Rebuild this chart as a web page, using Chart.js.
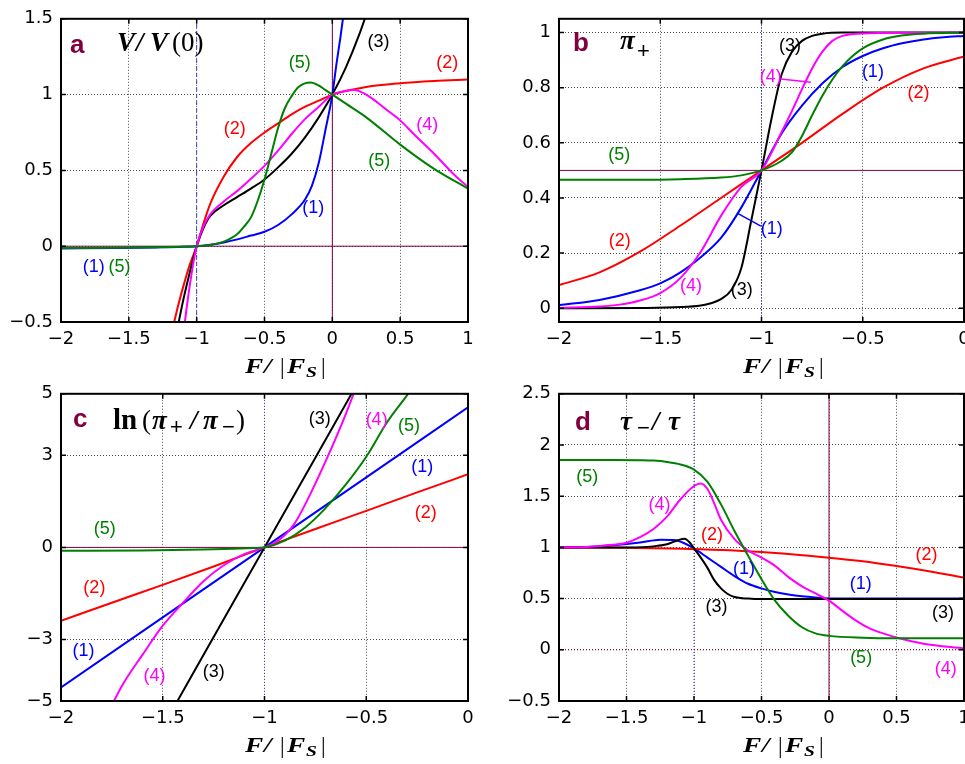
<!DOCTYPE html>
<html>
<head>
<meta charset="utf-8">
<script src="https://cdn.jsdelivr.net/npm/chart.js@4.4.1/dist/chart.umd.min.js"></script>
<style>
  html, body { margin: 0; padding: 0; background: #fff; }
  #wrap { position: relative; width: 965px; height: 764px; overflow: hidden; background: #fff; }
  canvas { position: absolute; }
</style>
</head>
<body>
<div id="wrap">
  <canvas id="chartA" width="490" height="385" style="left:0;top:0"></canvas>
  <canvas id="chartB" width="500" height="385" style="left:482px;top:0"></canvas>
  <canvas id="chartC" width="490" height="389" style="left:0;top:375px"></canvas>
  <canvas id="chartD" width="500" height="389" style="left:482px;top:375px"></canvas>
</div>
<script>
// ---- data: ticks ----
const xTicksA = [-2, -1.5, -1, -0.5, 0, 0.5, 1];
const yTicksA = [-0.5, 0, 0.5, 1, 1.5];
const xTicksB = [-2, -1.5, -1, -0.5, 0];
const yTicksB = [0, 0.2, 0.4, 0.6, 0.8, 1];
const xTicksC = [-2, -1.5, -1, -0.5, 0];
const yTicksC = [-5, -3, 0, 3, 5];
const xTicksD = [-2, -1.5, -1, -0.5, 0, 0.5, 1];
const yTicksD = [-0.5, 0, 0.5, 1, 1.5, 2, 2.5];

// ---- data: panel a, V/V(0) ----
const a1 = [[-2,-0.015],[-1.6,-0.012],[-1.3,-0.008],[-1.1,-0.004],[-1,0],[-0.9,0.01],[-0.8,0.025],[-0.7,0.045],[-0.6,0.07],[-0.5,0.095],[-0.4,0.14],[-0.3,0.21],[-0.2,0.31],[-0.15,0.4],[-0.1,0.55],[-0.05,0.77],[0,1],[0.03,1.2],[0.06,1.38],[0.09,1.58],[0.12,1.8]];
const a2 = [[-1.25,-0.85],[-1.2,-0.64],[-1.15,-0.44],[-1.1,-0.27],[-1.05,-0.12],[-1,0],[-0.95,0.15],[-0.9,0.28],[-0.8,0.46],[-0.7,0.59],[-0.6,0.68],[-0.5,0.75],[-0.4,0.81],[-0.3,0.87],[-0.2,0.92],[-0.1,0.96],[0,1],[0.25,1.05],[0.5,1.075],[0.75,1.09],[1,1.1]];
const a3 = [[-1.2,-0.8],[-1.15,-0.58],[-1.1,-0.36],[-1.05,-0.17],[-1,0],[-0.95,0.12],[-0.9,0.2],[-0.8,0.27],[-0.7,0.325],[-0.6,0.38],[-0.5,0.44],[-0.4,0.52],[-0.3,0.61],[-0.2,0.72],[-0.1,0.85],[0,1],[0.1,1.18],[0.2,1.4],[0.3,1.66]];
const a4 = [[-1.14,-0.9],[-1.1,-0.6],[-1.07,-0.38],[-1.03,-0.14],[-1,0],[-0.95,0.13],[-0.9,0.21],[-0.8,0.295],[-0.7,0.365],[-0.6,0.445],[-0.5,0.53],[-0.4,0.63],[-0.3,0.74],[-0.2,0.84],[-0.1,0.92],[0,1],[0.08,1.02],[0.16,1.03],[0.25,1],[0.4,0.9],[0.5,0.83],[0.6,0.74],[0.75,0.61],[0.9,0.47],[1,0.39]];
const a5 = [[-2,-0.012],[-1.6,-0.01],[-1.3,-0.007],[-1.1,-0.003],[-1,0],[-0.9,0.008],[-0.8,0.03],[-0.7,0.08],[-0.65,0.13],[-0.6,0.19],[-0.55,0.3],[-0.5,0.44],[-0.45,0.61],[-0.4,0.78],[-0.35,0.91],[-0.3,0.99],[-0.25,1.05],[-0.16,1.08],[-0.1,1.06],[-0.05,1.03],[0,1],[0.1,0.94],[0.25,0.85],[0.5,0.67],[0.75,0.51],[1,0.38]];

// ---- data: panel b, pi+ ----
const b1 = [[-2,0.011],[-1.8,0.03],[-1.6,0.065],[-1.5,0.09],[-1.4,0.13],[-1.3,0.185],[-1.2,0.255],[-1.1,0.365],[-1,0.5],[-0.9,0.635],[-0.8,0.735],[-0.7,0.815],[-0.6,0.875],[-0.5,0.915],[-0.4,0.943],[-0.3,0.962],[-0.2,0.975],[-0.1,0.983],[0,0.988]];
const b2 = [[-2,0.084],[-1.8,0.13],[-1.6,0.205],[-1.4,0.3],[-1.2,0.4],[-1.1,0.45],[-1,0.5],[-0.9,0.55],[-0.8,0.6],[-0.6,0.705],[-0.4,0.8],[-0.2,0.87],[0,0.913]];
const b3 = [[-2,0],[-1.6,0.001],[-1.4,0.004],[-1.3,0.01],[-1.25,0.018],[-1.2,0.033],[-1.15,0.065],[-1.1,0.145],[-1.05,0.32],[-1,0.5],[-0.95,0.69],[-0.9,0.85],[-0.85,0.93],[-0.8,0.97],[-0.75,0.988],[-0.7,0.996],[-0.6,1],[0,1]];
const b4 = [[-2,0.001],[-1.8,0.006],[-1.7,0.013],[-1.6,0.028],[-1.5,0.055],[-1.4,0.11],[-1.3,0.205],[-1.2,0.335],[-1.1,0.44],[-1,0.5],[-0.9,0.64],[-0.85,0.715],[-0.8,0.795],[-0.75,0.87],[-0.7,0.93],[-0.65,0.97],[-0.6,0.988],[-0.5,0.997],[0,1]];
const b5 = [[-2,0.466],[-1.6,0.466],[-1.4,0.468],[-1.2,0.474],[-1.1,0.482],[-1,0.5],[-0.9,0.535],[-0.85,0.565],[-0.8,0.625],[-0.75,0.7],[-0.7,0.77],[-0.65,0.83],[-0.6,0.878],[-0.55,0.915],[-0.5,0.943],[-0.4,0.975],[-0.3,0.99],[-0.2,0.996],[0,1]];
const bLeader1 = [[-1.12,0.345],[-1.003,0.298]];
const bLeader4 = [[-0.905,0.832],[-0.757,0.82]];

// ---- data: panel c, ln(pi+/pi-) ----
const c1 = [[-2,-4.56],[-1.5,-2.28],[-1,0],[-0.5,2.28],[0,4.56]];
const c2 = [[-2,-2.39],[-1.75,-1.8],[-1.5,-1.22],[-1.25,-0.62],[-1,0],[-0.75,0.6],[-0.5,1.19],[-0.25,1.79],[0,2.38]];
const c3 = [[-1.5,-5.85],[-1.25,-2.92],[-1,0],[-0.75,2.92],[-0.5,5.85]];
const c4 = [[-1.8,-5.8],[-1.7,-4.5],[-1.6,-3.5],[-1.5,-2.55],[-1.4,-1.8],[-1.3,-1.1],[-1.2,-0.58],[-1.1,-0.22],[-1,0],[-0.95,0.15],[-0.9,0.4],[-0.85,0.8],[-0.8,1.4],[-0.7,2.8],[-0.6,4.35],[-0.5,6.1]];
const c5 = [[-2,-0.11],[-1.6,-0.1],[-1.3,-0.07],[-1.15,-0.045],[-1.05,-0.02],[-1,0],[-0.9,0.22],[-0.8,0.65],[-0.7,1.28],[-0.6,2.05],[-0.5,2.95],[-0.4,4.05],[-0.3,4.95],[-0.2,5.9]];

// ---- data: panel d, tau-/tau ----
const d1 = [[-2,1],[-1.8,1.005],[-1.6,1.022],[-1.4,1.048],[-1.25,1.075],[-1.15,1.072],[-1.08,1.045],[-1,0.99],[-0.9,0.9],[-0.8,0.81],[-0.7,0.72],[-0.6,0.645],[-0.5,0.6],[-0.4,0.565],[-0.3,0.54],[-0.2,0.522],[-0.1,0.51],[0,0.502],[0.5,0.5],[1,0.5]];
const d2 = [[-2,1],[-1.5,0.996],[-1,0.985],[-0.5,0.955],[0,0.9],[0.25,0.865],[0.5,0.818],[0.75,0.765],[1,0.705]];
const d3 = [[-2,1],[-1.5,1],[-1.3,1.01],[-1.2,1.03],[-1.12,1.07],[-1.07,1.085],[-1.03,1.045],[-1,0.99],[-0.95,0.9],[-0.9,0.8],[-0.85,0.68],[-0.8,0.6],[-0.75,0.545],[-0.7,0.515],[-0.6,0.5],[-0.5,0.495],[0,0.495],[1,0.495]];
const d4 = [[-2,1],[-1.8,1.005],[-1.6,1.025],[-1.5,1.045],[-1.4,1.1],[-1.3,1.18],[-1.2,1.3],[-1.1,1.47],[-1,1.6],[-0.95,1.625],[-0.9,1.57],[-0.85,1.43],[-0.8,1.27],[-0.7,1.08],[-0.6,0.97],[-0.5,0.9],[-0.4,0.82],[-0.3,0.71],[-0.2,0.62],[-0.1,0.55],[0,0.48],[0.1,0.38],[0.2,0.285],[0.3,0.21],[0.4,0.16],[0.5,0.12],[0.7,0.06],[1,0.015]];
const d5 = [[-2,1.854],[-1.6,1.854],[-1.4,1.852],[-1.3,1.848],[-1.2,1.835],[-1.1,1.81],[-1,1.76],[-0.9,1.64],[-0.8,1.42],[-0.7,1.16],[-0.6,0.92],[-0.5,0.69],[-0.4,0.48],[-0.3,0.33],[-0.2,0.22],[-0.1,0.16],[0,0.136],[0.25,0.118],[0.5,0.113],[1,0.113]];

// ---- curve labels: text, x, y, curve number ----
const aLabels = [["(3)",0.34,1.35,3],["(5)",-0.24,1.21,5],["(2)",0.847,1.21,2],["(2)",-0.72,0.77,2],["(4)",0.7,0.8,4],["(5)",0.346,0.56,5],["(1)",-0.14,0.254,1],["(1)",-1.758,-0.14,1],["(5)",-1.568,-0.14,5]];
const bLabels = [["(3)",-0.859,0.95,3],["(4)",-0.954,0.84,4],["(1)",-0.45,0.856,1],["(2)",-0.225,0.779,2],["(5)",-1.703,0.554,5],["(2)",-1.7,0.243,2],["(1)",-0.949,0.288,1],["(4)",-1.348,0.082,4],["(3)",-1.098,0.066,3]];
const cLabels = [["(3)",-0.728,4.18,3],["(4)",-0.449,4.15,4],["(5)",-0.29,3.94,5],["(1)",-0.225,2.61,1],["(2)",-0.208,1.11,2],["(5)",-1.785,0.6,5],["(2)",-1.836,-1.33,2],["(1)",-1.889,-3.38,1],["(4)",-1.541,-4.18,4],["(3)",-1.249,-4.05,3]];
const dLabels = [["(5)",-1.79,1.69,5],["(4)",-1.256,1.41,4],["(2)",-0.867,1.12,2],["(2)",0.722,0.93,2],["(1)",-0.629,0.79,1],["(1)",0.236,0.647,1],["(3)",-0.833,0.42,3],["(3)",0.845,0.356,3],["(5)",0.238,-0.08,5],["(4)",0.865,-0.19,4]];

// ---- styles ----
const COLORS = ["#0000ff", "#ff0000", "#000000", "#ff00ff", "#008000"];
const MAROON = "#800040";
const REFBLUE = "#4040c0";
const BI = 'italic bold 27px "Liberation Serif"';
const RS = '27px "Liberation Serif"';
const BS = 'bold 29px "Liberation Serif"';
const SUBF = '22px "Liberation Sans"';
const LETTER = 'bold 26px "Liberation Sans"';
const AT = 'italic bold 21px "Liberation Serif"';
const AB = '23px "Liberation Serif"';

const AXIS_TITLE = [
  { t: "F", dx: 184, dy: 51, f: AT, sx: 1.3 },
  { t: "/", dx: 203, dy: 51, f: AT, sx: 1.3 },
  { t: "|", dx: 219, dy: 52, f: AB },
  { t: "F", dx: 226, dy: 51, f: AT, sx: 1.3 },
  { t: "S", dx: 245, dy: 55, f: 'italic bold 15px "Liberation Serif"', sx: 1.3 },
  { t: "|", dx: 260, dy: 52, f: AB }
];

function fmt(v) {
  return String(v).replace("-", "\u2212");
}

function drawPiece(ctx, p, x, y) {
  ctx.save();
  ctx.font = p.f;
  ctx.fillStyle = p.c || "#000";
  ctx.translate(x, y);
  ctx.scale(p.sx || 1, 1);
  ctx.fillText(p.t, 0, 0);
  ctx.restore();
}

const decor = {
  id: "decor",
  afterDatasetsDraw(chart, args, opts) {
    const ctx = chart.ctx;
    const a = chart.chartArea;
    const x = chart.scales.x;
    const y = chart.scales.y;
    ctx.save();

    ctx.font = '18px "Liberation Sans"';
    ctx.textAlign = "center";
    ctx.textBaseline = "middle";
    opts.labels.forEach(function (l) {
      ctx.fillStyle = COLORS[l[3] - 1];
      ctx.fillText(l[0], x.getPixelForValue(l[1]), y.getPixelForValue(l[2]));
    });

    // box and inward ticks, matlab style
    ctx.strokeStyle = "#000";
    ctx.lineWidth = 2;
    ctx.strokeRect(a.left, a.top, a.right - a.left, a.bottom - a.top);
    ctx.lineWidth = 1.5;
    ctx.beginPath();
    x.ticks.forEach(function (t) {
      const px = x.getPixelForValue(t.value);
      ctx.moveTo(px, a.bottom); ctx.lineTo(px, a.bottom - 5);
      ctx.moveTo(px, a.top); ctx.lineTo(px, a.top + 5);
    });
    y.ticks.forEach(function (t) {
      const py = y.getPixelForValue(t.value);
      ctx.moveTo(a.left, py); ctx.lineTo(a.left + 5, py);
      ctx.moveTo(a.right, py); ctx.lineTo(a.right - 5, py);
    });
    ctx.stroke();

    ctx.textAlign = "left";
    ctx.textBaseline = "alphabetic";
    opts.title.forEach(function (p) {
      drawPiece(ctx, p, a.left + p.dx, a.top + p.dy);
    });
    AXIS_TITLE.forEach(function (p) {
      drawPiece(ctx, p, a.left + p.dx, a.bottom + p.dy);
    });
    ctx.restore();
  }
};

function toXY(pts) {
  return pts.map(function (p) { return { x: p[0], y: p[1] }; });
}

function makePanel(id, geo, xr, yr, xt, yt, series, refs, leaders, labels, title) {
  const datasets = [];
  series.forEach(function (pts, i) {
    datasets.push({
      data: toXY(pts), borderColor: COLORS[i], borderWidth: 2, pointRadius: 0,
      cubicInterpolationMode: "monotone", order: 5 - i
    });
  });
  refs.forEach(function (r) {
    datasets.push({
      data: toXY(r.pts), borderColor: r.c, borderWidth: 1, borderDash: r.dash || [],
      pointRadius: 0, tension: 0, order: 10
    });
  });
  leaders.forEach(function (l) {
    datasets.push({
      data: toXY(l.pts), borderColor: COLORS[l.k - 1], borderWidth: 1.5,
      pointRadius: 0, tension: 0, order: 0
    });
  });

  const tickFont = { family: "DejaVu Sans", size: 18 };
  new Chart(document.getElementById(id), {
    type: "line",
    data: { datasets: datasets },
    options: {
      responsive: false,
      animation: false,
      events: [],
      layout: { padding: { left: 0, top: geo.top, right: geo.w - geo.right, bottom: 0 } },
      plugins: {
        legend: { display: false },
        tooltip: { enabled: false },
        decor: { labels: labels, title: title }
      },
      scales: {
        x: {
          type: "linear", min: xr[0], max: xr[1],
          afterBuildTicks: function (s) { s.ticks = xt.map(function (v) { return { value: v }; }); },
          afterFit: function (s) { s.height = geo.h - geo.bottom; },
          grid: { color: "rgba(0,0,0,0.7)", lineWidth: 1, drawTicks: false },
          border: { display: false, dash: [1, 2] },
          ticks: { font: tickFont, color: "#000", padding: 7, maxRotation: 0, autoSkip: false, callback: fmt }
        },
        y: {
          type: "linear", min: yr[0], max: yr[1],
          afterBuildTicks: function (s) { s.ticks = yt.map(function (v) { return { value: v }; }); },
          afterFit: function (s) { s.width = geo.left; },
          grid: { color: "rgba(0,0,0,0.7)", lineWidth: 1, drawTicks: false },
          border: { display: false, dash: [1, 2] },
          ticks: { font: tickFont, color: "#000", padding: 8, autoSkip: false, callback: fmt }
        }
      }
    },
    plugins: [decor]
  });
}

makePanel("chartA", { w: 490, h: 385, left: 61, top: 13, right: 468, bottom: 322 },
  [-2, 1], [-0.5, 1.5], xTicksA, yTicksA,
  [a1, a2, a3, a4, a5],
  [
    { pts: [[-1, -0.5], [-1, 1.5]], c: REFBLUE, dash: [4, 3] },
    { pts: [[0, -0.5], [0, 1.5]], c: MAROON },
    { pts: [[-2, 0], [1, 0]], c: MAROON }
  ],
  [], aLabels,
  [
    { t: "a", dx: 9, dy: 34, f: LETTER, c: MAROON },
    { t: "V", dx: 56, dy: 32, f: BI },
    { t: "/", dx: 75, dy: 32, f: BI },
    { t: "V", dx: 89, dy: 32, f: BI },
    { t: "(0)", dx: 111, dy: 32, f: RS }
  ]);

makePanel("chartB", { w: 500, h: 385, left: 77, top: 13, right: 482, bottom: 322 },
  [-2, 0], [-0.05, 1.05], xTicksB, yTicksB,
  [b1, b2, b3, b4, b5],
  [
    { pts: [[-1, -0.05], [-1, 1.05]], c: REFBLUE, dash: [1, 2] },
    { pts: [[-2, 0.5], [0, 0.5]], c: MAROON }
  ],
  [{ pts: bLeader1, k: 1 }, { pts: bLeader4, k: 4 }],
  bLabels,
  [
    { t: "b", dx: 14, dy: 32, f: LETTER, c: MAROON },
    { t: "\u03c0", dx: 61, dy: 30, f: BI },
    { t: "+", dx: 78, dy: 39, f: SUBF }
  ]);

makePanel("chartC", { w: 490, h: 389, left: 61, top: 17, right: 468, bottom: 326 },
  [-2, 0], [-5, 5], xTicksC, yTicksC,
  [c1, c2, c3, c4, c5],
  [
    { pts: [[-1, -5], [-1, 5]], c: REFBLUE, dash: [1, 2] },
    { pts: [[-2, 0], [0, 0]], c: MAROON }
  ],
  [], cLabels,
  [
    { t: "c", dx: 12, dy: 33, f: LETTER, c: MAROON },
    { t: "ln", dx: 52, dy: 35, f: BS },
    { t: "(", dx: 81, dy: 35, f: RS },
    { t: "\u03c0", dx: 91, dy: 35, f: BI },
    { t: "+", dx: 109, dy: 40, f: SUBF },
    { t: "/", dx: 129, dy: 35, f: BI },
    { t: "\u03c0", dx: 142, dy: 35, f: BI },
    { t: "\u2212", dx: 161, dy: 40, f: SUBF },
    { t: ")", dx: 175, dy: 35, f: RS }
  ]);

makePanel("chartD", { w: 500, h: 389, left: 77, top: 17, right: 482, bottom: 326 },
  [-2, 1], [-0.5, 2.5], xTicksD, yTicksD,
  [d1, d2, d3, d4, d5],
  [
    { pts: [[-1, -0.5], [-1, 2.5]], c: REFBLUE, dash: [1, 2] },
    { pts: [[0, -0.5], [0, 2.5]], c: MAROON },
    { pts: [[-2, 0], [1, 0]], c: MAROON, dash: [1, 2] }
  ],
  [], dLabels,
  [
    { t: "d", dx: 16, dy: 36, f: LETTER, c: MAROON },
    { t: "\u03c4", dx: 61, dy: 36, f: BI },
    { t: "\u2212", dx: 78, dy: 41, f: SUBF },
    { t: "/", dx: 93, dy: 36, f: BI },
    { t: "\u03c4", dx: 109, dy: 36, f: BI }
  ]);
</script>
</body>
</html>
